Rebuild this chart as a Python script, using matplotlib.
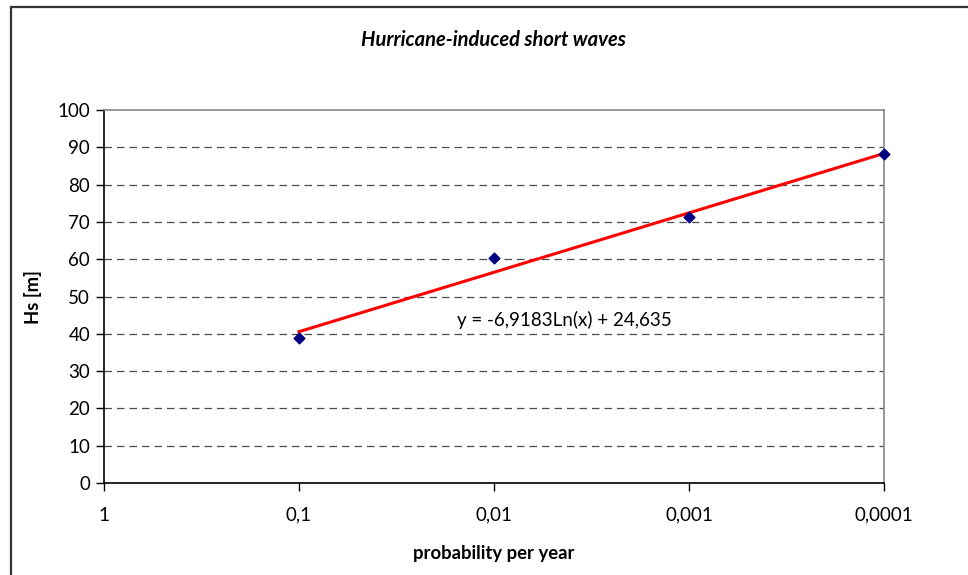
import numpy as np
import matplotlib
matplotlib.use("Agg")
import matplotlib.pyplot as plt
from matplotlib.patches import Rectangle
from matplotlib.ticker import FixedLocator, NullLocator

plt.rcParams["font.family"] = ["Lato", "DejaVu Sans"]

# annual exceedance probability and significant wave height
prob = [0.1, 0.01, 0.001, 0.0001]
hs = [38.8, 60.3, 71.2, 88.3]

# logarithmic trendline y = a*ln(x) + b
coef_a = -6.9183
coef_b = 24.635

x_ticks = [1, 0.1, 0.01, 0.001, 0.0001]
x_labels = ["1", "0,1", "0,01", "0,001", "0,0001"]
y_ticks = list(range(0, 101, 10))

W, H = 968, 575
fig = plt.figure(figsize=(W / 100, H / 100), dpi=100)

# outer chart frame
fig.patches.append(Rectangle((11 / W, -0.1), 1.2, 1 - 7 / H + 0.1,
                             transform=fig.transFigure, fill=False,
                             edgecolor="#333333", linewidth=1.6))

ax = fig.add_axes([104 / W, 1 - 483 / H, (884 - 104) / W, (483 - 110) / H])
ax.set_xscale("log")
ax.set_xlim(1, 0.0001)
ax.set_ylim(0, 100)

for yv in y_ticks[1:-1]:
    ax.axhline(yv, color="#4d4d4d", linewidth=0.9, linestyle=(0, (6, 4)), zorder=1)

xt = np.logspace(np.log10(prob[0]), np.log10(prob[-1]), 200)
ax.plot(xt, coef_a * np.log(xt) + coef_b, color="#ff0000", linewidth=2.2, zorder=2)
ax.scatter(prob, hs, marker="D", s=30, color="#000080", zorder=3, clip_on=False)

fig.text(457 / W, 1 - 320 / H, "y = -6,9183Ln(x) + 24,635", fontsize=13.5,
         ha="left", va="center")

ax.xaxis.set_major_locator(FixedLocator(x_ticks))
ax.xaxis.set_minor_locator(NullLocator())
ax.set_xticklabels(x_labels, fontsize=13.5)
ax.set_yticks(y_ticks)
ax.set_yticklabels([str(v) for v in y_ticks], fontsize=13.5)
ax.tick_params(axis="x", direction="out", length=6, width=1, pad=11)
ax.tick_params(axis="y", direction="out", length=6, width=1, pad=4)

for side in ("left", "bottom"):
    ax.spines[side].set_color("black")
    ax.spines[side].set_linewidth(1.2)
for side in ("top", "right"):
    ax.spines[side].set_color("#888888")
    ax.spines[side].set_linewidth(1.2)

fig.text(493 / W, 1 - 40 / H, "Hurricane-induced short waves", ha="center",
         va="center", fontsize=14.5, fontweight="bold", fontstyle="italic")
fig.text(494 / W, 1 - 553 / H, "probability per year", ha="center",
         va="center", fontsize=13.3, fontweight="bold")
fig.text(33 / W, 1 - 297 / H, "Hs [m]", ha="center", va="center",
         fontsize=13.3, fontweight="bold", rotation=90)

fig.savefig("out.png", dpi=100)
